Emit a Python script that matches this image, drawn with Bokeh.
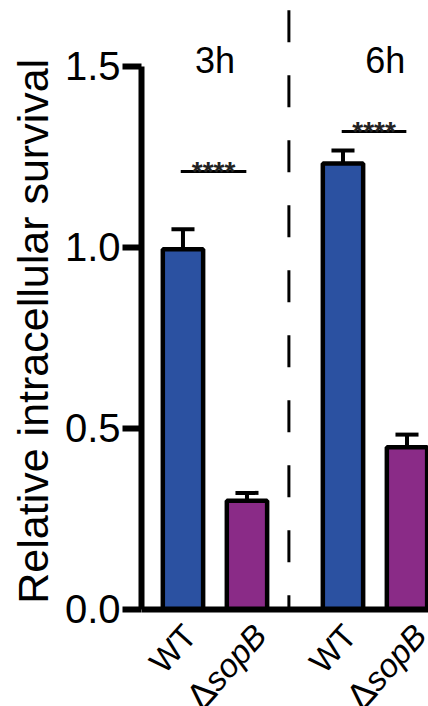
import math
from bokeh.plotting import figure
from bokeh.models import Range1d, FixedTicker, Span
from bokeh.core.properties import value
from bokeh.embed import file_html
from bokeh.resources import INLINE

# ---- data ----
groups = ["3h", "6h"]
strains = ["WT", "sopB"]
means = [0.995, 0.300, 1.232, 0.448]
sems = [0.055, 0.022, 0.036, 0.035]
colors = ["#2b51a1", "#8a2b87", "#2b51a1", "#8a2b87"]
sig_text = ["****", "****"]
sig_y = [1.21, 1.32]
sig_x0 = [0.965, 3.48]
sig_x1 = [1.99, 4.49]
yticks = [0.0, 0.5, 1.0, 1.5]
y_title = "Relative intracellular survival"

FONT = "Liberation Sans"

# layout positions
xs = [g * 2.5 + s + 1 for g in range(len(groups)) for s in range(len(strains))]
group_x = [1.5, 4.16]
sep_x = 2.655

W, H = 428, 706
BL = 141
x0r, x1r = 0.352, 4.836
y0r, y1r = -0.268, 1.682
px_per_x = (W - BL) / (x1r - x0r)
px_per_y = H / (y1r - y0r)

p = figure(width=W, height=H, output_backend="svg", toolbar_location=None,
           x_range=Range1d(x0r, x1r), y_range=Range1d(y0r, y1r),
           min_border_left=BL, min_border_right=0, min_border_top=0,
           min_border_bottom=0)
p.outline_line_color = None
p.xgrid.visible = False
p.ygrid.visible = False
p.xaxis.visible = False
p.background_fill_color = "white"
p.border_fill_color = "white"

# y axis
ya = p.yaxis[0]
ya.ticker = FixedTicker(ticks=yticks)
ya.major_label_overrides = {t: f"{t:.1f}" for t in yticks}
ya.bounds = (0, 1.5)
ya.axis_line_width = 6
ya.axis_line_color = "black"
ya.major_tick_line_width = 6
ya.major_tick_line_color = "black"
ya.major_tick_out = 19
ya.major_tick_in = 0
ya.minor_tick_line_color = None
ya.major_label_standoff = 2
ya.major_label_text_font = FONT
ya.major_label_text_font_size = "40px"
ya.major_label_text_color = "black"
# leading no-break spaces shift the centred title up towards the 0-1.5 span
ya.axis_label = "\u00a0\u00a0\u00a0\u2009" + y_title
ya.axis_label_text_font = FONT
ya.axis_label_text_font_size = "43px"
ya.axis_label_text_font_style = "normal"
ya.axis_label_text_color = "black"
ya.axis_label_standoff = 5

# x axis line at zero
p.add_layout(Span(location=0, dimension="width", line_color="black", line_width=6))

# separator
p.line([sep_x, sep_x], [1.655, 0], line_color="black", line_width=3,
       line_dash="32 33")

# error bars (upper only)
tops = [m + e for m, e in zip(means, sems)]
p.segment(x0=xs, y0=means, x1=xs, y1=tops, line_color="black", line_width=4)
p.segment(x0=[x - 0.18 for x in xs], y0=tops, x1=[x + 0.18 for x in xs], y1=tops,
          line_color="black", line_width=4)

# bars
p.vbar(x=xs, top=means, width=0.63, bottom=0, fill_color=colors,
       line_color="black", line_width=4.5)

# significance
p.segment(x0=sig_x0, y0=sig_y, x1=sig_x1, y1=sig_y, line_color="black", line_width=3)
p.text(x=[(a + b) / 2 for a, b in zip(sig_x0, sig_x1)], y=sig_y, text=sig_text,
       text_font=value(FONT), text_font_size="28px", text_font_style="bold",
       text_color="#222222", text_align="center", text_baseline="alphabetic")

# group headings
p.text(x=group_x, y=[1.517, 1.517], text=groups, text_font=value(FONT),
       text_font_size="36px", text_color="black", text_align="center",
       text_baseline="alphabetic")

# x tick labels (rotated, drawn in the frame below zero)
ang = 48
lab_y = -20 / px_per_y
fs = 33
w_sop = 2.279 * fs
dxp = w_sop * math.cos(math.radians(ang))
dyp = w_sop * math.sin(math.radians(ang))
wt_x = [x + 7 / px_per_x for i, x in enumerate(xs) if i % 2 == 0]
sop_x = [x + 13 / px_per_x for i, x in enumerate(xs) if i % 2 == 1]
common = dict(angle=ang, angle_units="deg", text_align="right",
              text_baseline="alphabetic", text_font=value(FONT),
              text_color="black")
p.text(x=wt_x, y=[lab_y] * len(wt_x), text=[strains[0]] * len(wt_x),
       text_font_size=f"{fs}px", **common)
p.text(x=sop_x, y=[lab_y] * len(sop_x), text=[strains[1]] * len(sop_x),
       text_font_style="italic", text_font_size=f"{fs}px", **common)
p.text(x=[x - dxp / px_per_x for x in sop_x],
       y=[lab_y - dyp / px_per_y] * len(sop_x), text=["Δ"] * len(sop_x),
       text_font_size=f"{fs + 4}px", **common)

open("out.html", "w").write(file_html(p, INLINE))
